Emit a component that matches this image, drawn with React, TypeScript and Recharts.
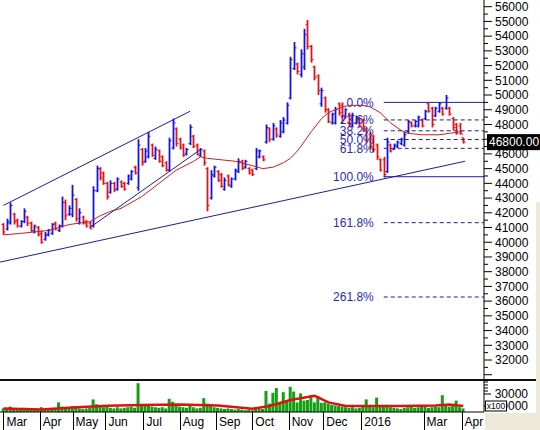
import React from 'react';
import { ComposedChart, Bar, Line, XAxis, YAxis, ReferenceLine } from 'recharts';

// ---- data (prices in VND, one bar every 2 sessions) ----
const sessionStep = 2;
const opens = [
  41200,40900,41300,41900,41500,41100,41400,41700,41300,40700,
  41000,40600,40200,40500,40600,41300,40800,41100,42700,41900,
  41900,42900,41300,41700,41400,41300,41100,43500,45000,44700,
  44000,43400,44000,43600,44100,44000,44000,44300,45100,43700,
  46300,45500,45800,46600,45700,46200,45800,45400,44900,46400,
  47700,47000,46600,46000,46700,47200,46600,45900,46200,45000,
  43000,44500,44800,44600,43600,44500,43800,44300,44800,45500,
  45100,45000,44900,45000,45800,45800,46800,47700,47000,47700,
  47200,47500,48100,49800,51800,52100,51400,51900,54800,53300,
  51900,51300,49400,49800,49000,48100,48100,49400,49300,48500,
  48700,47900,48100,48400,48300,47700,47300,47200,46600,45600,
  45600,44800,46600,46300,46500,46700,46600,47500,48100,47900,
  47900,48300,48400,49400,49100,48600,48900,49100,49100,49100,
  48400,48000,47900,47100,
];
const highs = [
  41300,41600,42700,42000,41600,41500,42300,41800,41400,41200,
  41100,40800,40700,40900,41300,41400,41200,43100,42900,42500,
  43900,43000,42300,41800,41500,41400,43800,45200,45100,44800,
  44100,44200,44100,44400,44200,44100,44600,44900,45200,47000,
  46400,46400,47500,46700,46500,46300,45900,45500,47100,48400,
  47800,47100,46700,46400,48000,47300,46700,46400,46300,45100,
  44900,45200,44900,44700,44400,44600,44400,45000,45700,45600,
  45600,45100,45000,46400,46300,45900,48000,47800,48100,47800,
  48300,48500,49500,52600,53600,52200,53100,54500,55100,53400,
  52000,51400,50500,49900,49100,48800,49200,49500,49500,49100,
  48800,48800,48600,48500,48400,47800,47500,47300,46700,45700,
  45800,47100,46700,46700,46900,47100,47500,48300,48200,48300,
  48600,48400,49000,49500,49200,49200,49500,49200,50000,49200,
  48500,48100,48100,47100,
];
const lows = [
  40500,40800,41200,41200,41000,41000,41300,41100,40700,40600,
  40400,39900,40100,40400,40500,40800,40700,41000,41500,41800,
  41700,41400,41200,41200,41000,40900,41000,43400,44200,43900,
  42900,43300,43400,43500,43700,43500,43900,44200,44600,43500,
  45200,45400,45700,45800,45600,45400,45100,44800,44800,46300,
  46500,46300,45800,45900,46600,46400,45900,45800,45200,42100,
  42900,44400,44100,43700,43500,43800,43700,44200,44700,44900,
  45000,44600,44500,44900,45700,45500,46700,46800,46900,47100,
  47100,47400,48000,49700,51700,51400,51200,51700,53100,52200,
  51000,50000,49200,48800,48100,48000,48000,48600,48100,48400,
  47800,47800,48000,47800,47500,46700,46300,46100,45600,44800,
  44400,44700,46100,46300,46400,46600,46500,47400,47800,47800,
  47800,47800,48300,48800,47800,48500,48800,48600,49000,48600,
  47600,47300,47300,46700,
];
const closes = [
  40700,41400,42500,41400,41100,41400,42100,41300,40800,41100,
  40500,40000,40500,40800,41200,40900,41100,42700,41800,42300,
  43200,41600,42000,41300,41100,40900,43500,45000,44400,44000,
  43100,44000,43600,44300,43800,43600,44500,44800,44700,46600,
  45400,46200,47200,45900,46300,45500,45200,44900,46900,48100,
  46700,46400,45900,46300,47800,46500,46000,46300,45400,42500,
  44600,45100,44200,43800,44200,43900,44300,44900,45500,45000,
  45500,44700,44600,46200,46200,45600,47800,47000,47900,47300,
  48100,48300,49300,52400,53200,51600,52800,54100,53300,52400,
  51200,50300,50300,49000,48200,48700,49000,48800,48300,49000,
  48000,48600,48500,47900,47600,46900,46500,46300,45800,44900,
  44600,46800,46200,46600,46800,47000,47300,48200,47900,48200,
  48500,47900,48900,48900,48000,49100,49400,48700,49800,48700,
  47800,47400,47500,46800,
];
// volume in units of 100 shares
const volumes = [
  6000,5000,9000,6000,5000,4000,7000,5000,4000,5000,
  4000,8000,5000,4000,6000,5000,16000,9000,7000,6000,
  10000,8000,6000,5000,6000,7000,21000,13000,9000,8000,
  10000,7000,6000,8000,6000,7000,8000,9000,7000,48000,
  12000,10000,13000,9000,8000,7000,8000,6000,22000,17000,
  12000,9000,8000,7000,10000,8000,6000,7000,23000,14000,
  11000,8000,7000,6000,5000,6000,5000,4000,5000,4000,
  3000,4000,3000,8000,6000,5000,35000,14000,32000,40000,
  15000,33000,17000,42000,34000,16000,31000,19000,20000,28000,
  16000,27000,15000,16000,14000,12000,11000,10000,9000,8000,
  7000,8000,6000,7000,9000,21000,10000,8000,24000,11000,
  9000,12000,8000,7000,6000,5000,7000,8000,9000,7000,
  8000,10000,9000,7000,8000,9000,8000,28000,12000,9000,
  10000,19000,8000,6000,
];
const maDays = [0,10,18,26,32,38,44,50,56,62,68,80,90,100,110,114,118,126,134,144,150,156,162,166,170,172,178,184,188,194,200,208,212,218,224,230,234,242,252,258,264,266];
const maValues = [40500,40600,40700,40800,41000,41200,41300,41400,41800,42100,42300,43100,44000,44900,45500,45800,45700,45600,45500,45200,45000,45100,45400,45700,46200,46500,47500,48400,48800,49100,49300,49300,49200,48800,48100,47600,47400,47300,47300,47400,47500,47300];
const volMaDays = [0,22,40,60,80,102,124,144,154,166,180,188,198,230,250,258,266];
const volMaValues = [5800,4300,7500,10500,11500,12500,11000,5300,10000,20000,27000,16000,10000,10000,11000,12500,10000];

const monthTickDays = [0,21,40,59,81,102,123,144,165,185,207,243,265];
const monthTickLabels = ['Mar','Apr','May','Jun','Jul','Aug','Sep','Oct','Nov','Dec','2016','Mar','Apr'];

const fibHigh = 49500;
const fibLow = 44450;
const fibStartDay = 220;
const fibRatios = [0, 23.6, 38.2, 50, 61.8, 100, 161.8, 261.8];
const trendLines = [
  { d1: -2, p1: 38650, d2: 267, p2: 45500 },
  { d1: 0, p1: 42500, d2: 108, p2: 48900 },
  { d1: 50, p1: 41000, d2: 114, p2: 46300 },
];

const X_DOMAIN: [number, number] = [-2, 278];
const PRICE_DOMAIN: [number, number] = [30710, 56455];
const VOL_DOMAIN: [number, number] = [0, 53300];

// ---- derived tables ----
const priceData = opens.map((o, i) => ({
  day: i * sessionStep, open: o, high: highs[i], low: lows[i], close: closes[i],
  range: [lows[i], highs[i]],
}));
const volData = volumes.map((v, i) => ({ day: i * sessionStep, volume: v }));
const maData = maDays.map((d, i) => ({ day: d, ma: maValues[i] }));
const volMaData = volMaDays.map((d, i) => ({ day: d, vma: volMaValues[i] }));
const priceTicks: number[] = [];
for (let v = 31000; v <= 56000; v += 500) priceTicks.push(v);
const volTicks = [10000, 30000, 35000, 40000, 45000, 50000];
const lastClose = closes[closes.length - 1];

const FONT = "'Liberation Sans', Arial, Helvetica, sans-serif";
const BLUE = '#1212E6';
const RED = '#E61212';
const NAVY = '#1C1C9E';
const FIB_TEXT = '#2A2AB8';
const GREY = '#ECE9D8';

const OhlcShape = (props: any) => {
  const { x, y, width, height, payload } = props;
  if (x == null || y == null || !payload) return null;
  const top = Math.min(y, y + height);
  const bot = Math.max(y, y + height);
  const { open, high, low, close } = payload;
  const span = high - low || 1;
  const yOf = (v: number) => top + ((high - v) / span) * (bot - top);
  const cx = Math.round(x + width / 2) + 0.5;
  const color = close >= open ? BLUE : RED;
  return (
    <g>
      <line x1={cx} x2={cx} y1={top} y2={bot} stroke={color} strokeWidth={1.8} />
      <line x1={cx - 2} x2={cx} y1={yOf(open)} y2={yOf(open)} stroke={color} strokeWidth={1} />
      <line x1={cx} x2={cx + 2} y1={yOf(close)} y2={yOf(close)} stroke={color} strokeWidth={1} />
    </g>
  );
};

// the last-price box sits over the axis; labels under it are hidden, as in the source chart
const PriceTick = (props: any) => {
  const { x, y, payload } = props;
  const v = payload.value;
  const major = v % 1000 === 0;
  const hiddenByBox = Math.abs(v - lastClose) < 600;
  return (
    <g>
      <line x1={x} x2={x + (major ? 8 : 4)} y1={y} y2={y} stroke="#000" strokeWidth={1} />
      {major && v >= 32000 && !hiddenByBox ? (
        <text x={x + 11} y={y} dy="0.36em" fontSize={12} fontFamily={FONT} fill="#000">{v}</text>
      ) : null}
    </g>
  );
};

const VolTick = (props: any) => {
  const { x, y, payload } = props;
  const v = payload.value;
  const labeled = v === 10000 || v === 30000;
  return (
    <g>
      <line x1={x} x2={x + (labeled ? 7 : 4)} y1={y} y2={y} stroke="#000" strokeWidth={1} />
      {labeled ? (
        <text x={x + 44} y={y} dy="0.36em" textAnchor="end" fontSize={12} fontFamily={FONT} fill="#000">{v}</text>
      ) : null}
      {v === 10000 ? (
        <g>
          <rect x={x + 1.5} y={y - 5} width={21} height={10} fill="#fff" stroke="#000" strokeWidth={1} />
          <text x={x + 12} y={y} dy="0.35em" textAnchor="middle" fontSize={8.5} fontFamily={FONT} fill="#000">x100</text>
        </g>
      ) : null}
    </g>
  );
};

const MonthTick = (props: any) => {
  const { x, y, index } = props;
  return (
    <g>
      <line x1={Math.round(x) + 0.5} x2={Math.round(x) + 0.5} y1={y} y2={y + 18} stroke="#000" strokeWidth={1} />
      <text x={x + 3} y={y + 14} fontSize={12} fontFamily={FONT} fill="#000">{monthTickLabels[index] ?? ''}</text>
    </g>
  );
};

const fibShape = (label: string, dashed: boolean) => (p: any) => {
  const xs = Math.min(p.x1, p.x2);
  const xe = Math.max(p.x1, p.x2);
  return (
    <g>
      <line x1={xs} y1={p.y1} x2={xe} y2={p.y2} stroke={NAVY} strokeWidth={1}
        strokeDasharray={dashed ? '4 3' : undefined} />
      <text x={xs - 10} y={p.y1} dy="0.36em" textAnchor="end" fontSize={12} fontFamily={FONT} fill={FIB_TEXT}>{label}</text>
    </g>
  );
};

const lastPriceShape = (p: any) => {
  const xe = Math.max(p.x1, p.x2);
  const yy = p.y1;
  return (
    <g>
      <rect x={xe + 3} y={yy - 8} width={56} height={16} fill="#000" />
      <text x={xe + 5} y={yy} dy="0.36em" fontSize={12} fontFamily={FONT} fill="#fff">{lastClose.toFixed(2)}</text>
    </g>
  );
};

export default function App() {
  return (
    <div style={{ position: 'absolute', left: 0, top: 0, width: 540, height: 430, background: '#fff', overflow: 'hidden' }}>
      <div style={{ position: 'absolute', left: 0, top: 0 }}>
        <ComposedChart width={540} height={379} data={priceData} margin={{ top: 0, right: 0, bottom: 0, left: 0 }}>
          <XAxis dataKey="day" type="number" domain={X_DOMAIN} hide allowDataOverflow />
          <YAxis orientation="right" width={56} domain={PRICE_DOMAIN} ticks={priceTicks} interval={0}
            allowDataOverflow tickSize={0} tickMargin={0} tickLine={false}
            axisLine={{ stroke: '#000' }} tick={<PriceTick />} />
          <Bar dataKey="range" barSize={3} isAnimationActive={false} shape={<OhlcShape />} />
          <Line data={maData} dataKey="ma" type="linear" stroke="#CC1E1E" strokeWidth={1} dot={false}
            activeDot={false} isAnimationActive={false} />
          {trendLines.map((t, i) => (
            <ReferenceLine key={'t' + i} ifOverflow="visible" stroke={NAVY} strokeWidth={1}
              segment={[{ x: t.d1, y: t.p1 }, { x: t.d2, y: t.p2 }]} />
          ))}
          {fibRatios.map((r) => {
            const lvl = fibHigh - (r / 100) * (fibHigh - fibLow);
            const dashed = r !== 0 && r !== 100;
            return (
              <ReferenceLine key={'f' + r} ifOverflow="visible"
                segment={[{ x: fibStartDay, y: lvl }, { x: X_DOMAIN[1], y: lvl }]}
                shape={fibShape(r.toFixed(1) + '%', dashed)} />
            );
          })}
          <ReferenceLine y={lastClose} ifOverflow="visible" shape={lastPriceShape} />
        </ComposedChart>
      </div>
      <div style={{ position: 'absolute', left: 0, top: 379, width: 536, height: 2, background: '#111' }} />
      <div style={{ position: 'absolute', left: 0, top: 380 }}>
        <ComposedChart width={540} height={50} data={volData} margin={{ top: 0, right: 0, bottom: 0, left: 0 }}>
          <XAxis dataKey="day" type="number" domain={X_DOMAIN} ticks={monthTickDays} interval={0}
            allowDataOverflow height={18} tickSize={0} tickMargin={0} tickLine={false}
            axisLine={{ stroke: '#000' }} tick={<MonthTick />} />
          <YAxis orientation="right" width={56} domain={VOL_DOMAIN} ticks={volTicks} interval={0}
            allowDataOverflow tickSize={0} tickMargin={0} tickLine={false}
            axisLine={{ stroke: '#000' }} tick={<VolTick />} />
          <Bar dataKey="volume" fill="#14A014" barSize={3} isAnimationActive={false} />
          <Line data={volMaData} dataKey="vma" type="linear" stroke="#E01010" strokeWidth={2.5} dot={false}
            activeDot={false} isAnimationActive={false} />
        </ComposedChart>
      </div>
      <div style={{ position: 'absolute', left: 485, top: 413, width: 55, height: 17, background: GREY }} />
      <div style={{ position: 'absolute', left: 536, top: 202, width: 4, height: 228, background: GREY }} />
    </div>
  );
}
